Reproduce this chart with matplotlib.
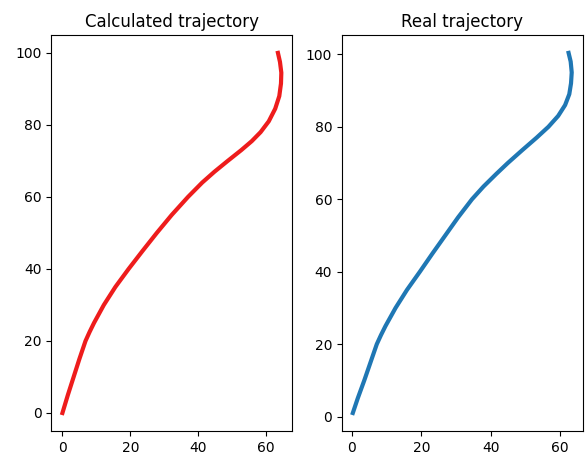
import matplotlib
matplotlib.use("Agg")
import matplotlib.pyplot as plt

# calculated trajectory
calc_y = [0, 5, 10, 15, 20, 22.5, 25, 30, 35, 40, 45, 50, 55, 60, 64, 67, 70,
          73, 75.5, 78, 81, 84.5, 88, 91.5, 94.5, 97.5, 100.0]
calc_x = [0.0, 1.6, 3.3, 5.0, 6.8, 8.0, 9.3, 12.2, 15.6, 19.5, 23.6, 27.8, 32.2,
          37.0, 41.2, 44.8, 48.7, 52.7, 55.8, 58.4, 60.8, 62.7, 63.9, 64.4, 64.5,
          64.1, 63.5]

# real trajectory
real_y = [1.0, 5, 10, 15, 20, 22.5, 25, 30, 35, 40, 45, 50, 55, 60, 63.5, 67, 70,
          73.5, 77, 80, 83, 86, 89, 92, 95, 98, 100.4]
real_x = [0.3, 1.7, 3.6, 5.4, 7.2, 8.4, 9.7, 12.6, 15.9, 19.6, 23.2, 26.9, 30.6,
          34.6, 37.9, 41.6, 44.9, 49.0, 53.2, 56.6, 59.4, 61.4, 62.6, 63.1, 63.3,
          63.0, 62.4]

fig, axs = plt.subplots(1, 2, figsize=(5.85, 4.59), dpi=100)
fig.subplots_adjust(left=0.088, right=0.996, bottom=0.061, top=0.924, wspace=0.206)

axs[0].plot(calc_x, calc_y, color="#ee1c1c", linewidth=3, solid_joinstyle="round")
axs[0].set_title("Calculated trajectory")

axs[1].plot(real_x, real_y, color="#1f77b4", linewidth=3, solid_joinstyle="round")
axs[1].set_title("Real trajectory")

fig.savefig("out.png", dpi=100)
